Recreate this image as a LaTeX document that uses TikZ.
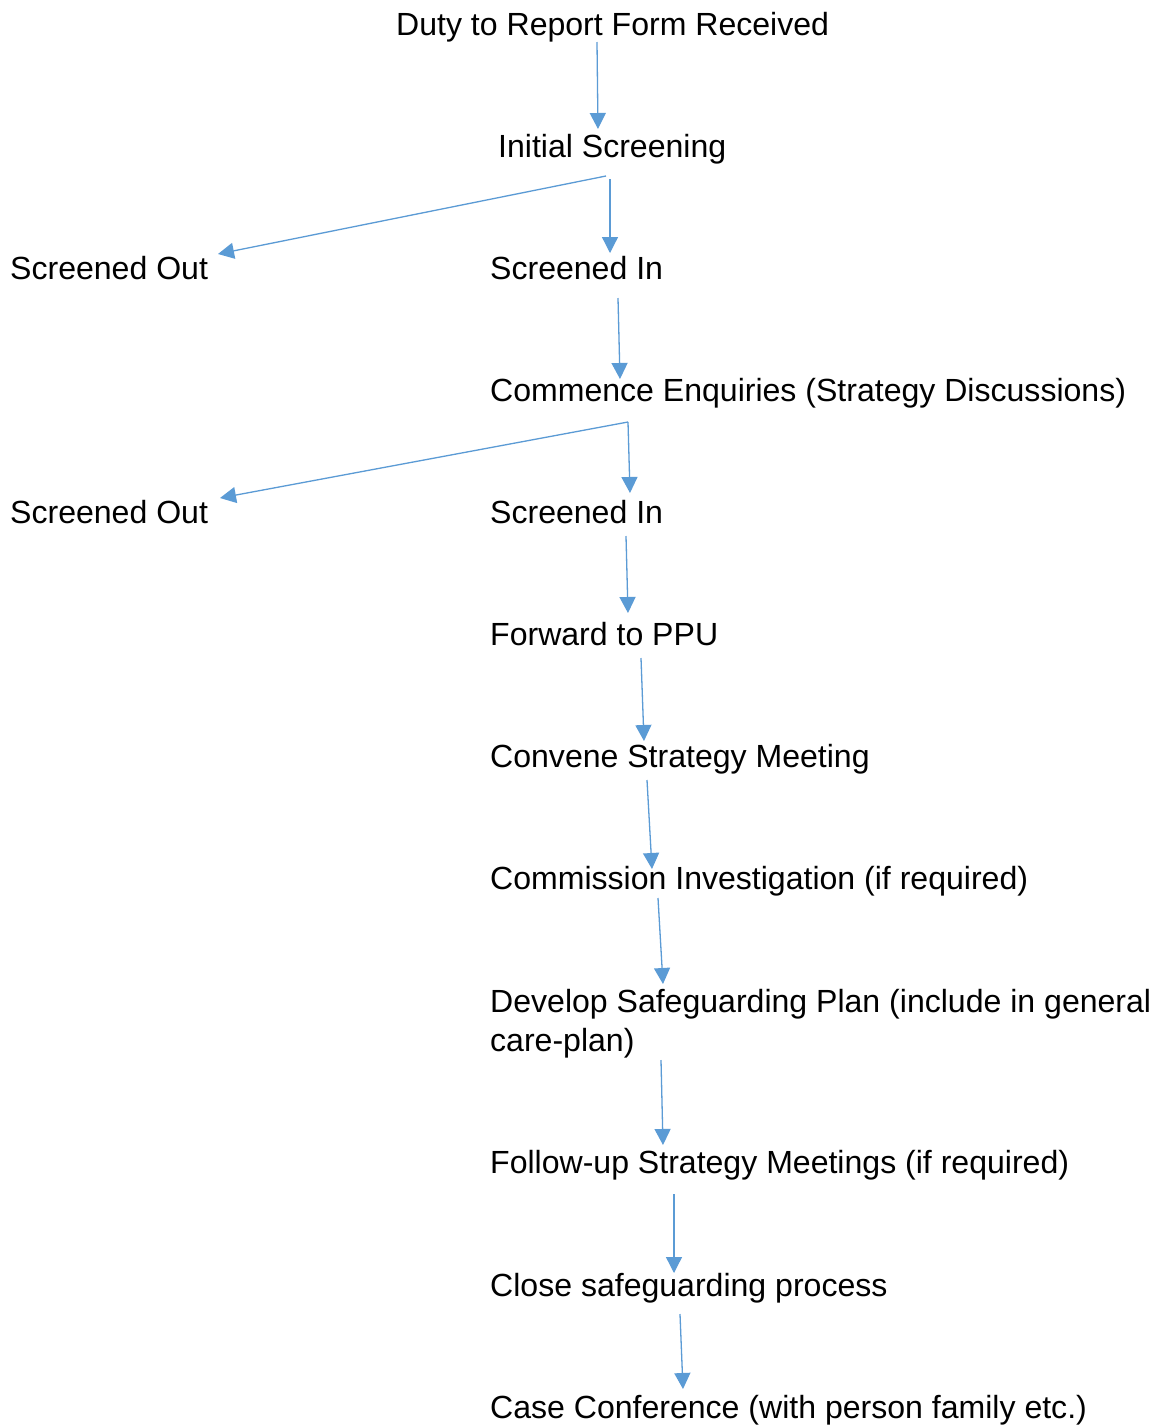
\documentclass[tikz,border=0pt]{standalone}
\usepackage{fontspec}
\setmainfont{Liberation Sans}
\usetikzlibrary{arrows.meta}
\definecolor{arrowblue}{HTML}{5B9BD5}
\begin{document}
\begin{tikzpicture}[x=1pt,y=-1pt,
  lbl/.style={anchor=base west,inner sep=0pt,font=\fontsize{32.05}{39}\selectfont},
  conn/.style={draw=arrowblue,line width=1.3pt,-{Triangle[length=16pt,width=16pt]}}]
\path[use as bounding box,fill=white] (0,0) rectangle (1157,1425);
% text nodes
\node[lbl] (duty) at (396,35) {Duty to Report Form Received};
\node[lbl] (init) at (498,157) {Initial Screening};
\node[lbl] (out1) at (10,279) {Screened Out};
\node[lbl] (in1) at (490,279) {Screened In};
\node[lbl] (comm) at (490,401) {Commence Enquiries (Strategy Discussions)};
\node[lbl] (out2) at (10,523) {Screened Out};
\node[lbl] (in2) at (490,523) {Screened In};
\node[lbl] (ppu) at (490,645) {Forward to PPU};
\node[lbl] (conv) at (490,767) {Convene Strategy Meeting};
\node[lbl] (inv) at (490,889) {Commission Investigation (if required)};
\node[lbl] (dev) at (490,1012) {Develop Safeguarding Plan (include in general};
\node[lbl] (dev2) at (490,1051) {care-plan)};
\node[lbl] (foll) at (490,1173) {Follow-up Strategy Meetings (if required)};
\node[lbl] (close) at (490,1296) {Close safeguarding process};
\node[lbl] (case) at (490,1418) {Case Conference (with person family etc.)};
% connector end points
\coordinate (a1) at (597,42);   \coordinate (b1) at (598,129);
\coordinate (a2) at (606,176);  \coordinate (b2) at (218,254);
\coordinate (a3) at (610,179);  \coordinate (b3) at (610,253);
\coordinate (a4) at (618,298);  \coordinate (b4) at (620,379);
\coordinate (a5) at (628,422);  \coordinate (b5) at (220,498);
\coordinate (a6) at (628,422);  \coordinate (b6) at (630,493);
\coordinate (a7) at (626,536);  \coordinate (b7) at (628,613);
\coordinate (a8) at (641,658);  \coordinate (b8) at (644,741);
\coordinate (a9) at (647,780);  \coordinate (b9) at (652,869);
\coordinate (a10) at (658,898); \coordinate (b10) at (663,984);
\coordinate (a11) at (661,1060);\coordinate (b11) at (663,1145);
\coordinate (a12) at (674,1194);\coordinate (b12) at (674,1273);
\coordinate (a13) at (680,1314);\coordinate (b13) at (683,1389);
% connectors
\draw[conn] (a1) -- (b1);
\draw[conn] (a2) -- (b2);
\draw[conn] (a3) -- (b3);
\draw[conn] (a4) -- (b4);
\draw[conn] (a5) -- (b5);
\draw[conn] (a6) -- (b6);
\draw[conn] (a7) -- (b7);
\draw[conn] (a8) -- (b8);
\draw[conn] (a9) -- (b9);
\draw[conn] (a10) -- (b10);
\draw[conn] (a11) -- (b11);
\draw[conn] (a12) -- (b12);
\draw[conn] (a13) -- (b13);
\end{tikzpicture}
\end{document}
